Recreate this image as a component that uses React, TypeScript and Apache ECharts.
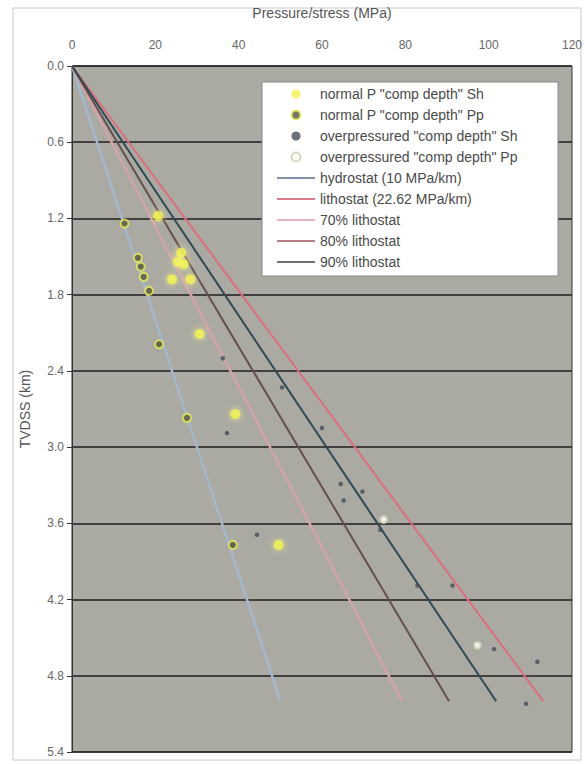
import React, { useEffect, useRef } from "react";
import * as echarts from "echarts";

// Pressure (MPa), depth TVDSS (km)
const normalSh: [number, number][] = [
  [20.7, 1.18], [26.2, 1.47], [25.4, 1.54], [26.8, 1.56], [24.0, 1.68],
  [28.4, 1.68], [30.6, 2.11], [39.2, 2.74], [49.6, 3.77],
];
const normalPp: [number, number][] = [
  [12.6, 1.24], [15.8, 1.51], [16.5, 1.58], [17.2, 1.66], [18.5, 1.77],
  [20.9, 2.19], [27.6, 2.77], [38.6, 3.77],
];
const overSh: [number, number][] = [
  [36.2, 2.30], [37.2, 2.89], [44.4, 3.69], [50.4, 2.53], [60.0, 2.85],
  [64.5, 3.29], [65.2, 3.42], [69.7, 3.35], [74.0, 3.65], [82.9, 4.09],
  [91.3, 4.09], [101.3, 4.59], [111.7, 4.69], [109.0, 5.02],
];
const overPp: [number, number][] = [
  [74.8, 3.57], [97.3, 4.56],
];
// reference lines: [pressure, depth] end points
const hydrostat: [number, number][] = [[0, 0], [50.0, 5.0]];
const lithostat: [number, number][] = [[0, 0], [113.1, 5.0]];
const litho70: [number, number][] = [[0, 0], [79.2, 5.0]];
const litho80: [number, number][] = [[0, 0], [90.5, 5.0]];
const litho90: [number, number][] = [[0, 0], [101.8, 5.0]];

const legendNames = [
  'normal P "comp depth" Sh',
  'normal P "comp depth" Pp',
  'overpressured "comp depth" Sh',
  'overpressured "comp depth" Pp',
  "hydrostat (10 MPa/km)",
  "lithostat (22.62 MPa/km)",
  "70% lithostat",
  "80% lithostat",
  "90% lithostat",
];

const FONT = "'Liberation Sans', Arial, sans-serif";
const LINE_ICON = "path://M0,0 L40,0 L40,1.6 L0,1.6 Z";

export default function App() {
  const ref = useRef<HTMLDivElement>(null);
  useEffect(() => {
    if (!ref.current) return;
    const chart = echarts.init(ref.current, null, { renderer: "svg" });
    const lineSeries = (name: string, data: [number, number][], color: string, width = 2, z = 2) => ({
      name,
      type: "line",
      data,
      symbol: "none",
      showSymbol: false,
      z,
      lineStyle: { color, width },
      itemStyle: { color },
    });
    const lineLegend = (name: string, color: string) => ({
      name,
      icon: LINE_ICON,
      itemStyle: { color, borderWidth: 0 },
    });
    chart.setOption({
      animation: false,
      backgroundColor: "#ffffff",
      textStyle: { fontFamily: FONT },
      grid: {
        left: 72,
        right: 13,
        top: 66,
        bottom: 12,
        show: true,
        backgroundColor: "#aaa9a2",
        borderColor: "#333",
        borderWidth: 1,
      },
      xAxis: {
        type: "value",
        position: "top",
        min: 0,
        max: 120,
        interval: 20,
        name: "Pressure/stress (MPa)",
        nameLocation: "middle",
        nameGap: 46,
        nameTextStyle: { fontSize: 14, color: "#555", fontFamily: FONT },
        axisLine: { show: false },
        axisTick: { show: false },
        splitLine: { show: false },
        axisLabel: { fontSize: 12, color: "#666", margin: 15, fontFamily: FONT },
      },
      yAxis: {
        type: "value",
        inverse: true,
        min: 0,
        max: 5.4,
        interval: 0.6,
        name: "TVDSS (km)",
        nameLocation: "middle",
        nameRotate: 90,
        nameGap: 40,
        nameTextStyle: { fontSize: 14, color: "#555", fontFamily: FONT },
        axisLine: { show: true, lineStyle: { color: "#333", width: 1 } },
        axisTick: { show: true, length: 5, lineStyle: { color: "#333" } },
        splitLine: { show: true, lineStyle: { color: "#1e1e1e", width: 1.5 } },
        axisLabel: {
          fontSize: 12,
          color: "#666",
          margin: 8,
          fontFamily: FONT,
          formatter: (v: number) => v.toFixed(1),
        },
      },
      legend: {
        orient: "vertical",
        left: 277,
        top: 87,
        padding: 0,
        itemWidth: 38,
        itemHeight: 9,
        itemGap: 7,
        z: 10,
        textStyle: { fontSize: 14, color: "#4a4a4a", lineHeight: 14, fontFamily: FONT },
        data: [
          { name: legendNames[0] },
          { name: legendNames[1] },
          { name: legendNames[2] },
          { name: legendNames[3] },
          lineLegend(legendNames[4], "#5a6c8c"),
          lineLegend(legendNames[5], "#c8505e"),
          lineLegend(legendNames[6], "#e09aa3"),
          lineLegend(legendNames[7], "#a0505c"),
          lineLegend(legendNames[8], "#3e4246"),
        ],
      },
      graphic: [
        {
          type: "rect",
          z: 0,
          shape: { x: 13, y: 8, width: 568, height: 752 },
          style: { fill: "none", stroke: "#c8c8c8", lineWidth: 1 },
        },
        {
          type: "rect",
          z: 9,
          shape: { x: 262, y: 82, width: 296, height: 194 },
          style: { fill: "#ffffff", stroke: "#888", lineWidth: 1 },
        },
      ],
      series: [
        {
          name: legendNames[0],
          type: "scatter",
          data: normalSh,
          symbol: "circle",
          symbolSize: 10,
          z: 5,
          itemStyle: {
            color: "#f3f24e",
            shadowBlur: 7,
            shadowColor: "rgba(255,255,140,0.95)",
          },
        },
        {
          name: legendNames[1],
          type: "scatter",
          data: normalPp,
          symbol: "circle",
          symbolSize: 8,
          z: 5,
          itemStyle: {
            color: "#55553a",
            borderColor: "#e8ec5a",
            borderWidth: 2,
          },
        },
        {
          name: legendNames[2],
          type: "scatter",
          data: overSh,
          symbol: "circle",
          symbolSize: 4.5,
          z: 5,
          itemStyle: { color: "#454c55" },
        },
        {
          name: legendNames[3],
          type: "scatter",
          data: overPp,
          symbol: "emptyCircle",
          symbolSize: 7,
          z: 5,
          itemStyle: { color: "#c9d0ae", borderColor: "#c9d0ae", borderWidth: 1.5 },
        },
        lineSeries(legendNames[4], hydrostat, "#a3b8cc", 2.5, 2),
        lineSeries(legendNames[5], lithostat, "#dc6f7d", 2, 3),
        lineSeries(legendNames[6], litho70, "#d2a4aa", 2.5, 2),
        lineSeries(legendNames[7], litho80, "#66504f", 2, 3),
        lineSeries(legendNames[8], litho90, "#2f4a52", 2, 3),
      ],
    });
    return () => chart.dispose();
  }, []);
  return (
    <div
      ref={ref}
      style={{ position: "fixed", left: 0, top: 0, width: 585, height: 764 }}
    />
  );
}
